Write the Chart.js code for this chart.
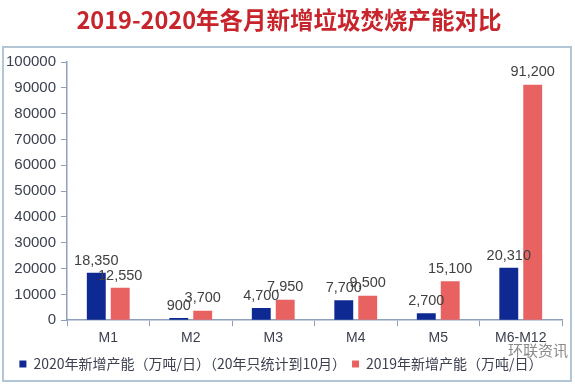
<!DOCTYPE html>
<html>
<head>
<meta charset="utf-8">
<script src="https://cdn.jsdelivr.net/npm/chart.js@4"></script>
<style>
    body { margin: 0; background: #fff; }
    #wrap { position: relative; width: 575px; height: 385px; }
    #title {
        position: absolute; left: 0; top: 2px; width: 578px; text-align: center;
        font: bold 23.5px "Noto Sans CJK SC", sans-serif; color: #c8242b;
    }
    #box {
        position: absolute; left: 2px; top: 46px; width: 566px; height: 332px;
        border: 2px solid #b3c6d6; pointer-events: none;
    }
    #mark {
        position: absolute; left: 508px; top: 339px;
        font: 15px "Noto Sans CJK SC", sans-serif; color: #8a8a8a;
    }
</style>
</head>
<body>
<div id="wrap">
    <div id="title">2019-2020年各月新增垃圾焚烧产能对比</div>
    <canvas id="myChart" width="575" height="385"></canvas>
    <div id="box"></div>
    <div id="mark">环联资讯</div>
</div>
<script>
let categories = ["M1", "M2", "M3", "M4", "M5", "M6-M12"];
let values2020 = [18350, 900, 4700, 7700, 2700, 20310];
let values2019 = [12550, 3700, 7950, 9500, 15100, 91200];
let seriesNames = ["2020年新增产能（万吨/日）（20年只统计到10月）", "2019年新增产能（万吨/日）"];
let yTicks = [0, 10000, 20000, 30000, 40000, 50000, 60000, 70000, 80000, 90000, 100000];

let axisColor = "#8d9fbd";
let textColor = "#3c4050";

// value labels above each bar
let barLabels = {
    id: "barLabels",
    afterDatasetsDraw(chart) {
        let ctx = chart.ctx;
        ctx.save();
        ctx.font = "14.5px 'Liberation Sans', Arial, sans-serif";
        ctx.fillStyle = "#404040";
        ctx.textAlign = "center";
        ctx.textBaseline = "bottom";
        chart.data.datasets.forEach((ds, i) => {
            chart.getDatasetMeta(i).data.forEach((bar, j) => {
                ctx.fillText(ds.data[j].toLocaleString("en-US"), bar.x, bar.y - 5);
            });
        });
        ctx.restore();
    }
};

let ctx = document.getElementById("myChart").getContext("2d");
let myChart = new Chart(ctx, {
    type: "bar",
    data: {
        labels: categories,
        datasets: [{
            label: seriesNames[0],
            data: values2020,
            backgroundColor: "#0e2a92",
        }, {
            label: seriesNames[1],
            data: values2019,
            backgroundColor: "#e96262",
        }]
    },
    options: {
        responsive: false,
        animation: false,
        categoryPercentage: 0.58,
        barPercentage: 0.79,
        layout: { padding: { top: 62, right: 13, left: 0, bottom: 4 } },
        plugins: {
            legend: {
                position: "bottom",
                labels: {
                    boxWidth: 7, boxHeight: 7, padding: 6,
                    color: textColor,
                    font: { family: "'Noto Sans CJK SC', sans-serif", size: 14 }
                }
            },
            tooltip: { enabled: false }
        },
        scales: {
            x: {
                grid: { display: true, drawOnChartArea: false, offset: true, color: axisColor, tickLength: 6 },
                border: { color: axisColor, width: 1.5 },
                ticks: { color: textColor, font: { family: "'Liberation Sans', Arial, sans-serif", size: 14 }, padding: 4 }
            },
            y: {
                min: 0,
                max: 100000,
                afterBuildTicks(axis) { axis.ticks = yTicks.map(v => ({ value: v })); },
                afterFit(axis) { axis.width = 67; },
                grid: { display: true, drawOnChartArea: false, color: axisColor, tickLength: 6 },
                border: { color: axisColor, width: 1.5 },
                ticks: {
                    color: textColor,
                    font: { family: "'Liberation Sans', Arial, sans-serif", size: 15 },
                    padding: 5,
                    callback: (v) => String(v)
                }
            }
        }
    },
    plugins: [barLabels]
});
</script>
</body>
</html>
